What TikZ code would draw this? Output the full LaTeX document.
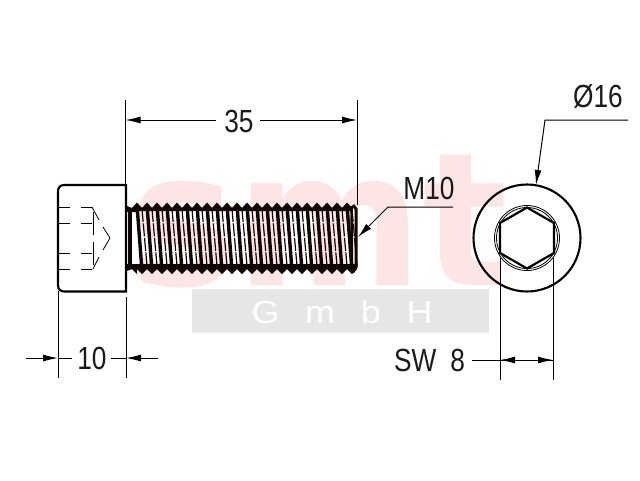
\documentclass[tikz,border=0pt]{standalone}
\usepackage{fontspec}
\setmainfont{Liberation Sans}
\newfontfamily\wmfont{DejaVu Sans}
\usetikzlibrary{arrows.meta}
\definecolor{wmpink}{HTML}{FDE5E5}
\definecolor{wmgray}{HTML}{E6E6E6}
\definecolor{ink}{HTML}{1A1A1A}
\definecolor{thread}{HTML}{100404}
\tikzset{
  thin line/.style={line width=1pt,draw=black},
  thick line/.style={line width=2.1pt,draw=black},
  hair/.style={line width=0.8pt,draw=black},
  dim/.style={line width=1pt,draw=black,-{Latex[length=15pt,width=7pt]}},
  dimtext/.style={font=\fontsize{32}{32}\selectfont,text=ink,inner sep=0pt,xscale=.82},
}
\begin{document}
\begin{tikzpicture}[x=1pt,y=-1pt]
\useasboundingbox (0,0) rectangle (640,480);
% watermark
\node[inner sep=0pt,anchor=base west,text=wmpink,xscale=.96] (wm) at (130,285)
  {\wmfont\fontsize{186}{186}\selectfont\bfseries smt};
\fill[wmgray] (192,288.5) rectangle (489,333);
\node[inner sep=0pt,text=white,xscale=1.12] (gmbh) at (342,312)
  {\fontsize{32}{32}\selectfont G\hspace{23pt}m\hspace{23pt}b\hspace{23pt}H};
% thread
\foreach \k in {0,...,21}{
  \pgfmathsetmacro\xa{137+10*\k}
  \fill[thread] (\xa-5,211) -- (\xa-5,208) -- (\xa,202.5) -- (\xa+5,208) -- (\xa+5,211) -- cycle;
  \fill[thread] (\xa,264) -- (\xa,269) -- (\xa+5,274) -- (\xa+10,269) -- (\xa+10,264) -- cycle;
  \draw[line width=3.4pt,draw=thread] (\xa,205) -- (\xa+5,271);
  \draw[line width=1.2pt,draw=thread,dash pattern=on 13pt off 1.5pt] (\xa+5,209) -- (\xa+10,266);
}
\fill[thread] (127,212) -- (127,206) -- (132,208) -- (137,203) -- (137,212) -- cycle;
\fill[thread] (127,264) -- (127,271) -- (132,269) -- (137,274) -- (137,264) -- cycle;
\draw[line width=4pt,draw=thread] (129.5,208) -- (129.5,268);
\draw[line width=3pt,draw=thread] (353,205) -- (356,209) -- (356,267) -- (353,272);
\draw[line width=2.6pt,draw=thread] (351.5,206) -- (352,270);
% head
\draw[thick line] (64,185) -- (126,185) -- (126,291.5) -- (64,291.5)
  .. controls (60.5,291.5) and (58,289) .. (58,285.5) -- (58,191)
  .. controls (58,187.5) and (60.5,185) .. (64,185) -- cycle;
\foreach \y in {207,223,253,269}{
  \draw[hair] (59,\y) -- (70,\y);
  \draw[hair] (81,\y) -- (92,\y);
}
\draw[hair] (92,207) -- (99,220);
\draw[hair] (93,269) -- (99,257);
\draw[hair] (93,212) -- (93,235);
\draw[hair] (93,242) -- (93,265);
\draw[hair] (103,227) -- (110,238) -- (103,250);
% end view
\coordinate (c) at (527,238);
\draw[thick line] (c) circle[radius=53.5];
\draw[hair] (c) circle[radius=32.5];
\draw[hair] (c) circle[radius=30.5];
\draw[line width=2.2pt,draw=black] (527,207.5) -- (554,223) -- (554,253) -- (527,268.5) -- (500,253) -- (500,223) -- cycle;
% dimension 35
\coordinate (a1) at (125.5,100); \coordinate (a2) at (125.5,185);
\coordinate (b1) at (357,100); \coordinate (b2) at (357,205);
\draw[thin line] (a1) -- (a2);
\draw[thin line] (b1) -- (b2);
\node[dimtext] (d35) at (239,121) {35};
\draw[dim] (216,120) -- (125.5,120);
\draw[dim] (260,120) -- (357,120);
% dimension 10
\coordinate (e1) at (58,291); \coordinate (e2) at (58,378);
\coordinate (f1) at (126,297); \coordinate (f2) at (126,378);
\draw[thin line] (e1) -- (e2);
\draw[thin line] (f1) -- (f2);
\node[dimtext] (d10) at (92,358) {10};
\draw[dim] (26,358) -- (58,358);
\draw[thin line] (58,358) -- (72,358);
\draw[dim] (158,358) -- (126,358);
\draw[thin line] (126,358) -- (111,358);
% M10
\node[dimtext] (m10) at (429,188) {M10};
\draw[dim] (453,207) -- (388,207) -- (358,237);
% diameter 16
\node[dimtext] (d16) at (598,96) {Ø16};
\draw[dim] (628,120) -- (545,120) -- (536,185);
% SW 8
\coordinate (g1) at (500,258); \coordinate (g2) at (500,380);
\coordinate (h1) at (553,258); \coordinate (h2) at (553,380);
\draw[thin line] (g1) -- (g2);
\draw[thin line] (h1) -- (h2);
\node[dimtext] (sw) at (429.5,360) {SW\hspace{17pt}8};
\draw[thin line] (472,360) -- (553,360);
\draw[dim] (516,360) -- (500,360);
\draw[dim] (537,360) -- (553,360);
\end{tikzpicture}
\end{document}
